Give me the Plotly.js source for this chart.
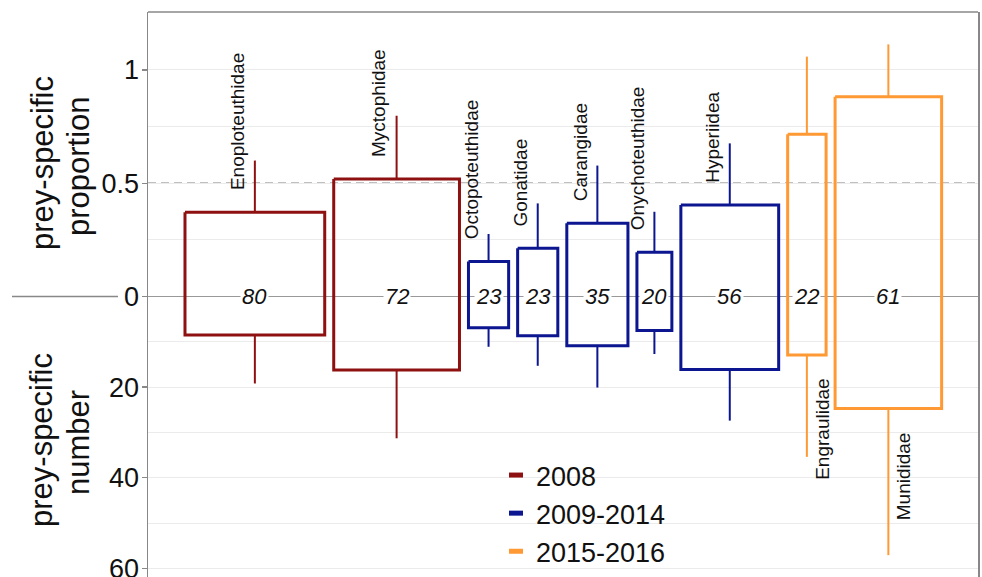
<!DOCTYPE html>
<html>
<head>
<meta charset="utf-8">
<script src="https://cdn.plot.ly/plotly-3.0.1.min.js"></script>
<style>
  html, body { margin: 0; padding: 0; background: #fff; overflow: hidden; }
  #chart { width: 982px; height: 577px; }
</style>
</head>
<body>
<div id="chart"></div>
<script>
// Prey families, sampling period and sample size (box width is proportional to n)
const families = ['Enoploteuthidae', 'Myctophidae', 'Octopoteuthidae', 'Gonatidae', 'Carangidae',
                  'Onychoteuthidae', 'Hyperiidea', 'Engraulidae', 'Munididae'];
const periods = ['2008', '2008', '2009-2014', '2009-2014', '2009-2014',
                 '2009-2014', '2009-2014', '2015-2016', '2015-2016'];
const nPrey = [80, 72, 23, 23, 35, 20, 56, 22, 61];

// Upper half: prey-specific proportion (box edge and whisker end)
const propBox = [0.372, 0.519, 0.154, 0.213, 0.323, 0.195, 0.404, 0.716, 0.882];
const propWhisker = [0.600, 0.798, 0.276, 0.411, 0.578, 0.374, 0.676, 1.059, 1.113];

// Lower half: prey-specific number (box edge and whisker end)
const numBox = [8.5, 16.2, 6.9, 8.65, 10.9, 7.5, 16.1, 12.9, 24.7];
const numWhisker = [19.2, 31.3, 11.1, 15.3, 20.1, 12.7, 27.4, 35.4, 57.1];

// Legend groups
const periodNames = ['2008', '2009-2014', '2015-2016'];
const periodColors = ['#8E1010', '#0C1690', '#FF9933'];

// Axis ticks
const propTicks = [1, 0.5, 0];
const numTicks = [20, 40, 60];
const propMinor = [0.75, 0.25];
const numMinor = [10, 30, 50];

// The number scale is drawn downward below zero: 50 prey = 1 proportion unit
const NUM_SCALE = 50;
const toY = n => -n / NUM_SCALE;

// Horizontal layout: boxes placed side by side, width = n, fixed gap
const START = 21.18, GAP = 5.15, XMAX = 475.2;
const x0 = [], x1 = [], xc = [];
let cursor = START;
nPrey.forEach(n => {
  x0.push(cursor); x1.push(cursor + n); xc.push(cursor + n / 2);
  cursor += n + GAP;
});

const FONT = 'Liberation Sans, Arial, Helvetica, sans-serif';
const traces = [];

periodNames.forEach((p, g) => {
  const bx = [], by = [], wx = [], wy = [];
  families.forEach((f, i) => {
    if (periods[i] !== p) return;
    const top = propBox[i], bot = toY(numBox[i]);
    bx.push(x0[i], x1[i], x1[i], x0[i], x0[i], null);
    by.push(top, top, bot, bot, top, null);
    wx.push(xc[i], xc[i], null, xc[i], xc[i], null);
    wy.push(top, propWhisker[i], null, bot, toY(numWhisker[i]), null);
  });
  traces.push({
    type: 'scatter', mode: 'lines', x: wx, y: wy, showlegend: false, hoverinfo: 'skip',
    line: { color: periodColors[g], width: 2 }
  });
  traces.push({
    type: 'scatter', mode: 'lines', x: bx, y: by, showlegend: false, hoverinfo: 'skip',
    line: { color: periodColors[g], width: 3 }
  });
});

// Legend entries (short coloured dash per period)
periodNames.forEach((p, g) => {
  traces.push({
    type: 'scatter', mode: 'markers', name: p, x: [-100], y: [0], hoverinfo: 'skip',
    marker: { symbol: 'line-ew-open', size: 10, color: periodColors[g],
              line: { color: periodColors[g], width: 5 } }
  });
});

// Plot area geometry (px) used for paper-referenced decorations
const W = 982, H = 577, ML = 148, MR = 4, MT = 12, MB = 0;
const PW = W - ML - MR, PH = H - MT - MB;
const Y_TOP = 1.256, Y_BOT = -1.2384;
const pxToPaperX = px => (px - ML) / PW;
const pxToPaperY = py => (H - MB - py) / PH;
const zeroPaperY = (0 - Y_BOT) / (Y_TOP - Y_BOT);

const annotations = [];

// Family names, rotated, above the upper whisker or below the lower one
families.forEach((f, i) => {
  const below = propWhisker[i] > 1;
  annotations.push(below ? {
    x: xc[i], y: toY(numBox[i]), xref: 'x', yref: 'y', text: f, showarrow: false,
    textangle: -90, xanchor: 'left', yanchor: 'top', xshift: 3, yshift: -22,
    font: { family: FONT, size: 19, color: '#111' }
  } : {
    x: xc[i], y: propBox[i], xref: 'x', yref: 'y', text: f, showarrow: false,
    textangle: -90, xanchor: 'right', yanchor: 'bottom', xshift: -5, yshift: 20,
    font: { family: FONT, size: 19, color: '#111' }
  });
});

// Sample sizes on the zero line
families.forEach((f, i) => {
  annotations.push({
    x: xc[i], y: 0, xref: 'x', yref: 'y', text: String(nPrey[i]), showarrow: false,
    bgcolor: '#fff', borderpad: 1,
    font: { family: FONT, size: 22, color: '#111', style: 'italic' }
  });
});

// Two stacked axis titles
const titleLines = [
  { text: 'prey-specific', x: 42, y: 163 },
  { text: 'proportion', x: 78, y: 166 },
  { text: 'prey-specific', x: 42, y: 440 },
  { text: 'number', x: 78, y: 443 }
];
titleLines.forEach(t => {
  annotations.push({
    x: pxToPaperX(t.x), y: pxToPaperY(t.y), xref: 'paper', yref: 'paper',
    text: t.text, showarrow: false, textangle: -90, xanchor: 'center', yanchor: 'middle',
    font: { family: FONT, size: 31, color: '#111' }
  });
});

const shapes = [
  // 0.5 reference line, above the grid but under the boxes
  { type: 'line', xref: 'paper', yref: 'y', x0: 0, x1: 1, y0: 0.5, y1: 0.5, layer: 'between',
    line: { color: '#808080', width: 1.5, dash: '8px,5px' } },
  // zero line continued into the left margin
  { type: 'line', xref: 'paper', yref: 'paper', x0: pxToPaperX(12), x1: pxToPaperX(118),
    y0: zeroPaperY, y1: zeroPaperY, line: { color: '#888', width: 1.3 } },
  // top border of the panel
  { type: 'line', xref: 'paper', yref: 'paper', x0: 0, x1: 1, y0: 1, y1: 1,
    line: { color: '#888', width: 1.5 } }
];

const layout = {
  width: W, height: H,
  margin: { l: ML, r: MR, t: MT, b: MB, pad: 0, autoexpand: false },
  paper_bgcolor: '#fff', plot_bgcolor: '#fff',
  font: { family: FONT, color: '#111' },
  xaxis: {
    range: [0, XMAX], showgrid: false, zeroline: false, showticklabels: false,
    ticks: '', showline: false, fixedrange: true
  },
  yaxis: {
    range: [Y_BOT, Y_TOP],
    tickmode: 'array',
    tickvals: propTicks.concat(numTicks.map(toY)),
    ticktext: propTicks.map(String).concat(numTicks.map(String)),
    tickfont: { family: FONT, size: 27, color: '#111' },
    ticklabeloverflow: 'allow', ticklabelstandoff: -3,
    ticks: 'outside', ticklen: 5, tickcolor: '#888', tickwidth: 1.3,
    showgrid: true, gridcolor: '#ebebeb', gridwidth: 1,
    minor: { tickmode: 'array', tickvals: propMinor.concat(numMinor.map(toY)),
             showgrid: true, gridcolor: '#ebebeb', gridwidth: 1, ticks: '' },
    zeroline: true, zerolinecolor: '#999', zerolinewidth: 1.5,
    showline: true, mirror: true, linecolor: '#888', linewidth: 1.5,
    fixedrange: true
  },
  showlegend: true,
  legend: {
    x: pxToPaperX(496), y: pxToPaperY(451), xanchor: 'left', yanchor: 'top',
    bgcolor: 'rgba(0,0,0,0)', borderwidth: 0,
    font: { family: FONT, size: 27, color: '#111' },
    tracegroupgap: 0, itemsizing: 'trace'
  },
  annotations: annotations,
  shapes: shapes
};

Plotly.newPlot('chart', traces, layout, { displayModeBar: false, staticPlot: true });
</script>
</body>
</html>
